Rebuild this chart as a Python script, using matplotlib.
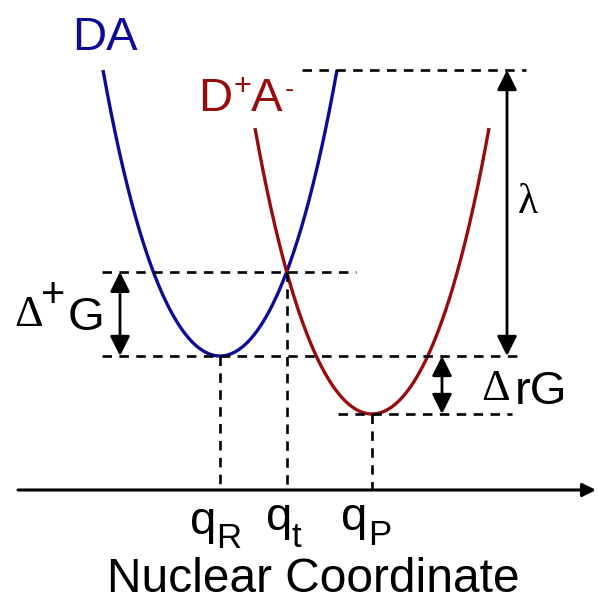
import numpy as np
import matplotlib

matplotlib.use("Agg")
import matplotlib.pyplot as plt

# Diagram frame: nuclear coordinate on x, free energy on y (axis line at 0)
q_R = 220.0
q_P = 372.0
G_R = 134.0  # minimum of the DA (reactant) curve
G_P = 76.0  # minimum of the D+A- (product) curve
lam = 286.0  # reorganisation energy, height of each curve above its minimum

# shape of the free-energy wells: E = G + a*dq^2 + b*dq^4
WELL_A = 0.018
WELL_B = 2.11e-7

BLUE = "#0c0c98"
RED = "#980c0c"
DASH = (0, (3.6, 2.8))


def well(q: np.ndarray, q0: float, g0: float) -> np.ndarray:
    dq = q - q0
    return g0 + WELL_A * dq**2 + WELL_B * dq**4


def well_halfwidth() -> float:
    u = (-WELL_A + np.sqrt(WELL_A**2 + 4 * WELL_B * lam)) / (2 * WELL_B)
    return float(np.sqrt(u))


def crossing() -> tuple[float, float]:
    q = np.linspace(q_R, q_P, 5001)
    diff = np.abs(well(q, q_R, G_R) - well(q, q_P, G_P))
    i = int(np.argmin(diff))
    return float(q[i]), float(well(q[i : i + 1], q_R, G_R)[0])


def hdash(ax, y, x0, x1):
    ax.plot([x0, x1], [y, y], color="black", lw=1.9, linestyle=DASH)


def vdash(ax, x, y0, y1):
    ax.plot([x, x], [y0, y1], color="black", lw=1.9, linestyle=DASH)


def double_arrow(ax, x, y0, y1):
    ax.annotate(
        "",
        xy=(x, y1),
        xytext=(x, y0),
        arrowprops=dict(
            arrowstyle="<|-|>",
            color="black",
            lw=2.0,
            mutation_scale=30,
            shrinkA=0,
            shrinkB=0,
        ),
    )


def main() -> None:
    plt.rcParams["font.family"] = ["Liberation Sans", "DejaVu Sans"]

    fig = plt.figure(figsize=(5.98, 6.03), dpi=100)
    ax = fig.add_axes([0, 0, 1, 1])
    ax.set_xlim(0, 598)
    ax.set_ylim(-113, 490)
    ax.axis("off")

    half = well_halfwidth()
    q_t, G_t = crossing()

    # free-energy wells
    qa = np.linspace(q_R - half, q_R + half, 400)
    ax.plot(qa, well(qa, q_R, G_R), color=BLUE, lw=2.4, solid_capstyle="butt")
    qb = np.linspace(q_P - half, q_P + half, 400)
    ax.plot(qb, well(qb, q_P, G_P), color=RED, lw=2.4, solid_capstyle="butt")

    # guide lines
    hdash(ax, G_R + lam, 302, 526)
    hdash(ax, G_t, 102, 356)
    hdash(ax, G_R, 102, 522)
    hdash(ax, G_P, 338, 512)
    vdash(ax, q_R, G_R, 0)
    vdash(ax, q_t, G_t, 0)
    vdash(ax, q_P, G_P, 0)

    # energy gaps
    double_arrow(ax, 120, G_R, G_t)
    double_arrow(ax, 507, G_R, G_R + lam)
    double_arrow(ax, 442, G_P, G_R)

    # nuclear coordinate axis
    ax.annotate(
        "",
        xy=(596, 0),
        xytext=(18, 0),
        arrowprops=dict(
            arrowstyle="-|>", color="black", lw=2.2,
            mutation_scale=20, shrinkA=0, shrinkB=0,
        ),
    )

    big = 34
    ax.text(72, 440, "DA", color=BLUE, fontsize=big, va="baseline")
    ax.text(198, 379, "D", color=RED, fontsize=big, va="baseline")
    ax.text(242, 403, "+", color=RED, fontsize=22, ha="center", va="center")
    ax.text(251, 379, "A", color=RED, fontsize=big, va="baseline")
    ax.text(289, 400, "-", color=RED, fontsize=20, ha="center", va="center")

    ax.text(518, 277, "λ", fontsize=30, family="Liberation Serif", va="baseline")

    ax.text(14, 164, "Δ", fontsize=32, family="Liberation Serif", va="baseline")
    ax.text(53, 194, "+", fontsize=30, ha="center", va="center")
    ax.text(68, 160, "G", fontsize=big, va="baseline")

    ax.text(481, 90, "Δ", fontsize=32, family="Liberation Serif", va="baseline")
    ax.text(515, 86, "rG", fontsize=big, va="baseline")

    ax.text(190, -44, "q", fontsize=big, va="baseline")
    ax.text(216, -58, "R", fontsize=25, va="baseline")
    ax.text(266, -40, "q", fontsize=big, va="baseline")
    ax.text(292, -57, "t", fontsize=25, va="baseline")
    ax.text(341, -40, "q", fontsize=big, va="baseline")
    ax.text(368, -55, "P", fontsize=25, va="baseline")

    ax.text(107, -112, "Nuclear Coordinate", fontsize=34.5, va="bottom")

    fig.savefig("out.png", dpi=100, facecolor="white")


if __name__ == "__main__":
    main()
